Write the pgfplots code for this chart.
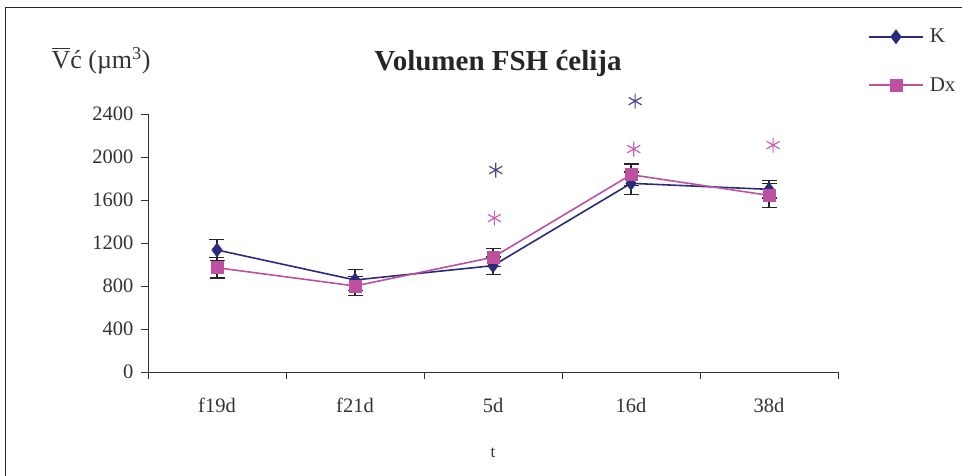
\documentclass[border=0pt]{standalone}
\usepackage{fontspec}
\setmainfont{Liberation Serif}
\usepackage{pgfplots}
\pgfplotsset{compat=1.18}
\definecolor{navyK}{RGB}{43,43,125}
\definecolor{pinkD}{RGB}{190,80,160}
\definecolor{navyS}{RGB}{70,70,145}
\definecolor{pinkS}{RGB}{205,95,175}
\newcommand{\Vbar}{{\setbox0\hbox{V}\rlap{\rule[\dimexpr\ht0+2.5pt]{\wd0}{1pt}}V}}
\begin{document}
\begin{tikzpicture}[x=1pt,y=1pt]
\path[use as bounding box] (0,0) rectangle (962,476);
\draw[line width=1pt,black!85] (5,0) -- (5,468) -- (962,468);
\begin{axis}[
  at={(148pt,104pt)}, anchor=south west,
  scale only axis, width=690pt, height=258pt,
  xmin=-0.5, xmax=4.5, ymin=0, ymax=2400,
  clip=false,
  axis x line*=bottom, axis y line*=left,
  axis line style={-, line width=0.9pt, black!80},
  xtick={0,1,2,3,4},
  xticklabels={f19d,f21d,5d,16d,38d},
  minor xtick={-0.5,0.5,1.5,2.5,3.5,4.5},
  major x tick style={draw=none},
  minor tick length=7pt,
  ytick={0,400,...,2400},
  major tick length=7pt,
  tick align=outside,
  tick style={line width=0.9pt, black!80},
  /pgf/number format/assume math mode=true,
  /pgf/number format/1000 sep={},
  ticklabel style={font=\fontsize{20.5}{24}\selectfont, text=black!80},
  xticklabel style={yshift=-16pt},
  yticklabel style={xshift=-4pt},
  legend style={draw=none, fill=none, at={(axis description cs:1.039,1.345)}, anchor=north west,
    font=\fontsize{21}{24}\selectfont, row sep=29pt, text=black!80},
  legend cell align=left,
  legend image code/.code={\draw[mark repeat=2,mark phase=2,#1,line width=1.8pt] plot coordinates {(0pt,0pt) (27pt,0pt) (54pt,0pt)};\path (58pt,0pt);},
  error bars/error bar style={black!85, line width=1.3pt},
  error bars/error mark options={rotate=90, mark size=7.5pt, black!85, line width=1.3pt},
]
\addplot[color=navyK, line width=1.6pt, mark=diamond*, mark size=7pt,
  mark options={fill=navyK, draw=navyK, line width=0.5pt},
  error bars/.cd, y dir=both, y explicit]
  coordinates {(0,1135) +- (0,100) (1,856) +- (0,95) (2,989) +- (0,80) (3,1755) +- (0,105) (4,1699) +- (0,80)};
\addlegendentry{K}
\addplot[color=pinkD, line width=1.6pt, mark=square*, mark size=6pt,
  mark options={fill=pinkD, draw=pinkD, line width=0.5pt},
  error bars/.cd, y dir=both, y explicit]
  coordinates {(0,970) +- (0,95) (1,800) +- (0,90) (2,1067) +- (0,85) (3,1835) +- (0,100) (4,1643) +- (0,110)};
\addlegendentry{Dx}
\addplot[only marks, mark=asterisk, mark size=7.5pt, color=navyS, line width=1.2pt, forget plot]
  coordinates {(2.02,1879) (3.03,2520)};
\addplot[only marks, mark=asterisk, mark size=7.5pt, color=pinkS, line width=1.2pt, forget plot]
  coordinates {(2.01,1432) (3.02,2074) (4.03,2111)};
\end{axis}
\node[font=\bfseries\fontsize{29}{34}\selectfont, text=black!85] at (498,412) {Volumen FSH ćelija};
\node[anchor=west, font=\fontsize{26}{30}\selectfont, text=black!80] at (48,415) {\Vbar ć (µm\textsuperscript{3})};
\node[font=\fontsize{17}{20}\selectfont, text=black!80] at (493,23) {t};
\end{tikzpicture}
\end{document}
